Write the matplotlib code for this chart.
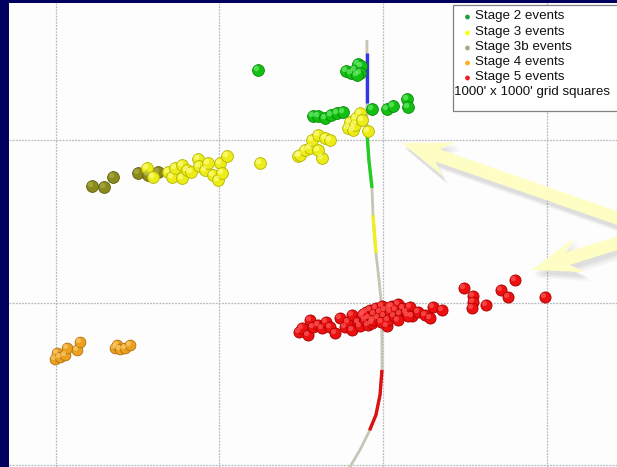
import numpy as np
import matplotlib
matplotlib.use("Agg")
import matplotlib.pyplot as plt
from matplotlib.transforms import ScaledTranslation, IdentityTransform
from matplotlib.patches import FancyArrow, Rectangle

# ---- data (feet, 1000' grid) ----
stage2_x = [-764, -226, -195, -171, -153, -134, -141, -159, -428, -397, -354, -318, -281, -244, -67, 24, 61, 147, 153]
stage2_y = [1431, 1425, 1412, 1431, 1468, 1455, 1412, 1400, 1148, 1148, 1135, 1154, 1166, 1172, 1191, 1191, 1209, 1252, 1203]

stage3_x = [-1442, -1405, -1313, -1289, -1271, -1228, -1228, -1197, -1173, -1130, -1124, -1087, -1069, -1039, -1008,
            -996, -984, -953, -751, -519, -507, -477, -446, -434, -397, -354, -324, -373, -397,
            -214, -202, -183, -171, -165, -141, -128, -92]
stage3_y = [828, 772, 803, 772, 828, 846, 766, 815, 803, 883, 840, 815, 858, 785, 754,
            858, 797, 902, 858, 902, 908, 938, 951, 1000, 1031, 1012, 1000, 889, 938,
            1074, 1111, 1062, 1092, 1135, 1166, 1123, 1055]

stage3b_x = [-1778, -1704, -1649, -1497, -1436, -1375]
stage3b_y = [717, 711, 772, 797, 785, 803]

stage4_x = [-2004, -1992, -1973, -1943, -1930, -1869, -1851, -1637, -1625, -1607, -1576, -1546]
stage4_y = [-348, -311, -335, -323, -280, -292, -243, -280, -262, -286, -280, -262]

stage5_x = [495, 550, 550, 544, 629, 721, 764, 806, 990,
            -513, -495, -458, -446, -428, -397, -373, -348, -324, -293, -263, -232, -214, -189, -189,
            -153, -141, -128, -110, -104, -92, -86, -79, -67, -55, -43, -31, -18, -6, 6, 12, 24, 31,
            43, 55, 67, 79, 92, 104, 122, 141, 165, 177, 214, 257, 287, 305, 360,
            -120, -60, -10, 40, 90, 150]
stage5_y = [89, 40, 3, -34, -15, 77, 34, 138, 34,
            -182, -157, -200, -108, -151, -138, -157, -120, -151, -188, -95, -151, -120, -77, -169,
            -120, -145, -83, -108, -58, -138, -95, -46, -126, -71, -34, -95, -58, -22, -83, -46, -145, -108,
            -58, -22, -83, -46, -9, -71, -34, -58, -28, -83, -58, -77, -95, -28, -46,
            -70, -110, -120, -30, -110, -80]

well_x = [-98, -98, -98, -98, -86, -67, -61, -43, -24, -12, -6, -6, -18, -43, -86, -141, -202, -232]
well_y = [1615, 1535, 1228, 1049, 877, 705, 538, 305, 138, 15, -231, -415, -569, -692, -797, -908, -1012, -1062]

# stage intervals along wellbore (top, bottom)
well_stage_top = [1535, 1049, 538, -415]
well_stage_bot = [1228, 705, 305, -787]
well_stage_col = ['#3535e8', '#22cc22', '#eeee22', '#dd1111']

legend_labels = ['Stage 2 events', 'Stage 3 events', 'Stage 3b events', 'Stage 4 events', 'Stage 5 events']
legend_colors = ['#20a040', '#ffff10', '#a8a890', '#ffb020', '#ee2020']
grid_note = "1000' x 1000' grid squares"

# ---- figure ----
W, H = 617, 467
fig = plt.figure(figsize=(W / 100, H / 100), dpi=100, facecolor='#00005e')
ax = fig.add_axes([9 / W, 0, 1 - 9 / W, (H - 3) / H])
ax.set_facecolor('#fdfdfd')
ax.set_xlim(-2285, 1430)
ax.set_ylim(-1012, 1843)
for s in ax.spines.values():
    s.set_visible(False)
ax.set_xticks([-2000, -1000, 0, 1000])
ax.set_yticks([-1000, 0, 1000])
ax.tick_params(length=0, labelbottom=False, labelleft=False)
ax.grid(True, color='#b8b8c0', lw=0.9, linestyle=(0, (1.5, 1)))
ax.set_axisbelow(True)

# wellbore
wx = np.array(well_x, float)
wy = np.array(well_y, float)
ax.plot(wx, wy, color='#c6c6b2', lw=2.0, zorder=2, solid_capstyle='butt')
for top, bot, col in zip(well_stage_top, well_stage_bot, well_stage_col):
    ys = np.linspace(top, bot, 60)
    xs = np.interp(ys, wy[::-1], wx[::-1])
    ax.plot(xs, ys, color=col, lw=2.4, zorder=3, solid_capstyle='butt')

# spheres
hl = ScaledTranslation(-1.5 / 100, 1.5 / 100, fig.dpi_scale_trans)

def spheres(x, y, base, edge, light, s):
    ax.scatter(x, y, s=s, c=base, edgecolors=edge, linewidths=0.6, zorder=4)
    ax.scatter(x, y, s=s * 0.22, c=light, edgecolors='none', alpha=0.65, zorder=5,
               transform=ax.transData + hl)

spheres(stage3b_x, stage3b_y, '#8a8a1c', '#5c5c0c', '#b0b050', 72)
spheres(stage3_x, stage3_y, '#ecec18', '#b4b400', '#ffff90', 72)
spheres(stage2_x, stage2_y, '#12c012', '#0a860a', '#70f070', 72)
spheres(stage4_x, stage4_y, '#eca020', '#b07010', '#ffd070', 60)
spheres(stage5_x, stage5_y, '#ec1010', '#a80000', '#ff6060', 64)

# legend box (manual, to match the original layout)
def px2ax(px, py):
    x0, x1 = 9, W
    y0, y1 = 3, H
    return (px - x0) / (x1 - x0), 1 - (py - y0) / (y1 - y0)

bx, by = px2ax(453, 111)
bx2, by2 = px2ax(W + 5, 5)
ax.add_patch(Rectangle((bx, by), bx2 - bx, by2 - by, transform=ax.transAxes,
                       facecolor='white', edgecolor='#808080', lw=0.9, zorder=10, clip_on=False))
row_y = [16, 32, 47, 62, 77]
for lab, col, ry in zip(legend_labels, legend_colors, row_y):
    mx, my = px2ax(467.5, ry + 1)
    ax.scatter([mx], [my], s=12, c=col, edgecolors='none', transform=ax.transAxes, zorder=11, clip_on=False)
    tx, ty = px2ax(475, ry)
    ax.text(tx, ty, lab, transform=ax.transAxes, fontsize=9.6, family='Liberation Sans',
            va='center', ha='left', color='#111111', zorder=11)
tx, ty = px2ax(454, 92)
ax.text(tx, ty, grid_note, transform=ax.transAxes, fontsize=9.6, family='Liberation Sans',
        va='center', ha='left', color='#111111', zorder=11)

# pale yellow arrows (display pixels, origin bottom-left)
def arrow(tip, tail):
    tx_, ty_ = tip
    sx, sy = tail
    for k, a in [(6, 0.05), (4, 0.07), (2, 0.08)]:
        ax.add_patch(FancyArrow(sx + k, H - sy - k - 2, (tx_ - sx), -(ty_ - sy), width=14, head_width=38,
                                head_length=50, length_includes_head=True, overhang=0.25,
                                transform=IdentityTransform(),
                                facecolor='#606060', edgecolor='none', alpha=a, zorder=6))
    ax.add_patch(FancyArrow(sx, H - sy, (tx_ - sx), -(ty_ - sy), width=13, head_width=36,
                            head_length=50, length_includes_head=True, overhang=0.25,
                            transform=IdentityTransform(),
                            facecolor='#fefdc4', edgecolor='none', zorder=7))

arrow((402, 143), (640, 226))
arrow((532, 270), (640, 236))

fig.savefig('out.png', dpi=100, facecolor=fig.get_facecolor())
